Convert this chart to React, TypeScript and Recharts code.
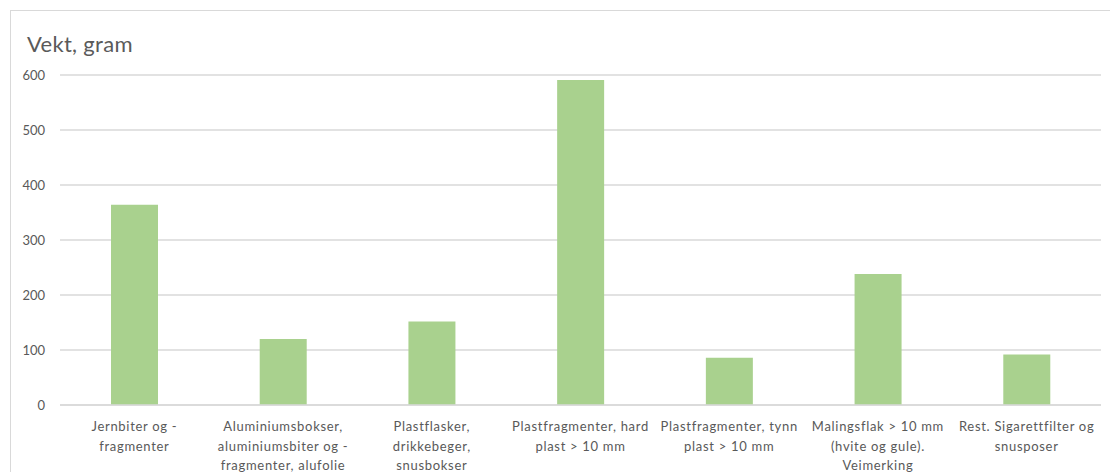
import React from 'react';
import { BarChart, Bar, XAxis, YAxis, CartesianGrid } from 'recharts';

const categories: string[] = [
  'Jernbiter og -\nfragmenter',
  'Aluminiumsbokser,\naluminiumsbiter og -\nfragmenter, alufolie',
  'Plastflasker,\ndrikkebeger,\nsnusbokser',
  'Plastfragmenter, hard\nplast > 10 mm',
  'Plastfragmenter, tynn\nplast > 10 mm',
  'Malingsflak > 10 mm\n(hvite og gule).\nVeimerking',
  'Rest. Sigarettfilter og\nsnusposer',
];
const weights: number[] = [364, 120, 152, 591, 86, 238, 92];
const yTicks: number[] = [0, 100, 200, 300, 400, 500, 600];
const title = 'Vekt, gram';

const data = categories.map((c, i) => ({ name: c, value: weights[i] }));

const FONT = 'Lato, "Open Sans", sans-serif';
const TEXT = '#595959';

const CategoryTick = (props: any) => {
  const { x, y, payload } = props;
  const lines = String(payload.value).split('\n');
  return (
    <text
      x={x}
      y={y}
      textAnchor="middle"
      fill={TEXT}
      fontSize={13}
      fontFamily={FONT}
      style={{ letterSpacing: '0.7px' }}
    >
      {lines.map((l, i) => (
        <tspan key={i} x={x} dy={i === 0 ? 26 : 19.5}>
          {l}
        </tspan>
      ))}
    </text>
  );
};

export default function App() {
  return (
    <div
      style={{
        position: 'relative',
        width: 1120,
        height: 480,
        marginLeft: 2,
        marginTop: 2,
        border: '1px solid #d9d9d9',
        boxSizing: 'border-box',
        background: '#fff',
      }}
    >
      <div
        style={{
          position: 'absolute',
          left: 16,
          top: 22,
          fontFamily: FONT,
          fontSize: 22,
          fontWeight: 400,
          lineHeight: '22px',
          letterSpacing: '0.3px',
          color: '#5a5a5a',
          whiteSpace: 'nowrap',
        }}
      >
        {title}
      </div>
      <BarChart
        width={1118}
        height={470}
        data={data}
        margin={{ top: 64, right: 28, left: 0, bottom: 6 }}
      >
        <CartesianGrid vertical={false} stroke="#d9d9d9" strokeWidth={1.5} />
        <XAxis
          dataKey="name"
          interval={0}
          height={70}
          tickLine={false}
          axisLine={{ stroke: '#d9d9d9', strokeWidth: 1.5 }}
          tickSize={0}
          tickMargin={0}
          tick={<CategoryTick />}
        />
        <YAxis
          width={49}
          domain={[0, 600]}
          ticks={yTicks}
          axisLine={false}
          tickLine={false}
          tickSize={0}
          tickMargin={15}
          tick={{ fill: TEXT, fontSize: 13, fontFamily: FONT }}
        />
        <Bar dataKey="value" fill="#a9d18e" barSize={47} isAnimationActive={false} />
      </BarChart>
    </div>
  );
}
